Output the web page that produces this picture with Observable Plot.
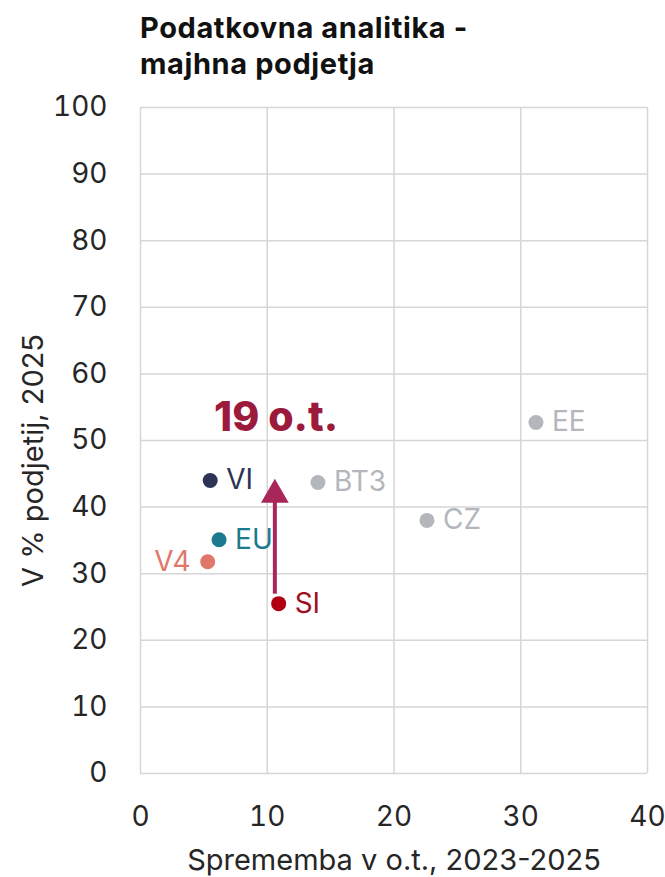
<!DOCTYPE html>
<html>
<head>
<meta charset="utf-8">
<script src="https://cdn.jsdelivr.net/npm/d3@7"></script>
<script src="https://cdn.jsdelivr.net/npm/@observablehq/plot@0.6"></script>
<style>
  html, body { margin: 0; padding: 0; background: #fff; }
  #title { height: 90px; box-sizing: border-box; padding: 10px 0 0 140px;
    font-family: "Inter", "Roboto", sans-serif; font-weight: 700;
    font-size: 29px; line-height: 36px; letter-spacing: 0.6px; color: #111; }
  #title .l { display: block; white-space: nowrap; }
</style>
</head>
<body>
<div id="title"><span class="l">Podatkovna analitika -</span><span class="l">majhna podjetja</span></div>
<div id="chart"></div>
<script>
const countries = ["EE", "CZ", "BT3", "VI", "EU", "V4", "SI"];
const changePP = [31.2, 22.6, 14.0, 5.5, 6.2, 5.3, 10.9];
const share2025 = [52.7, 38.0, 43.7, 44.0, 35.1, 31.8, 25.5];
const colors = ["#b3b7bc", "#b3b7bc", "#b3b7bc", "#2c3356", "#1c7a8e", "#e0776b", "#b00012"];
const labelColors = ["#b3b7bc", "#b3b7bc", "#b3b7bc", "#2c3356", "#1c7a8e", "#e0776b", "#a0101c"];
const labelSide = ["right", "right", "right", "right", "right", "left", "right"];

const xTicks = [0, 10, 20, 30, 40];
const yTicks = [0, 10, 20, 30, 40, 50, 60, 70, 80, 90, 100];

const arrowX = [10.6];
const arrowFrom = [27.0];
const arrowTo = [44.3];
const annotationText = ["19 o.t."];
const annotationX = [10.7];
const annotationY = [53.4];

const points = countries.map((c, i) => ({
  name: c, x: changePP[i], y: share2025[i], color: colors[i],
  labelColor: labelColors[i], side: labelSide[i]
}));
const arrow = arrowX.map((x, i) => ({x, y1: arrowFrom[i], y2: arrowTo[i]}));
const annot = annotationText.map((t, i) => ({t, x: annotationX[i], y: annotationY[i]}));

const font = "Inter, Liberation Sans, sans-serif";
const arrowColor = "#a8265a";
const textColor = "#262626";

const chart = Plot.plot({
  width: 665,
  height: 787,
  marginTop: 17,
  marginBottom: 104,
  marginLeft: 140,
  marginRight: 18,
  style: { fontFamily: font, fontSize: "28px", color: textColor, background: "#fff" },
  x: { domain: [0, 40], ticks: xTicks, label: null },
  y: { domain: [0, 100], ticks: yTicks, label: null },
  marks: [
    Plot.gridX(xTicks, { stroke: "#d6d6d6", strokeOpacity: 1, strokeWidth: 1.5 }),
    Plot.gridY(yTicks, { stroke: "#d6d6d6", strokeOpacity: 1, strokeWidth: 1.5 }),
    Plot.axisX(xTicks, { tickSize: 0, tickPadding: 33, fontSize: 28, fill: textColor, label: null }),
    Plot.axisY(yTicks, { tickSize: 0, tickPadding: 33, fontSize: 28, fill: textColor, label: null }),
    Plot.text(["Sprememba v o.t., 2023-2025"], {
      frameAnchor: "bottom", textAnchor: "middle", lineAnchor: "middle", dy: 87,
      fontSize: 29, letterSpacing: 1.1, fill: textColor
    }),
    Plot.text(["V % podjetij, 2025"], {
      frameAnchor: "left", textAnchor: "middle", lineAnchor: "middle", dx: -107, dy: 20,
      rotate: -90, fontSize: 29, letterSpacing: 1.1, fill: textColor
    }),
    Plot.link(arrow, { x1: "x", x2: "x", y1: "y1", y2: d => d.y2 - 3.0,
      stroke: arrowColor, strokeWidth: 4 }),
    Plot.dot(arrow, { x: "x", y: d => d.y2 - 2.45, symbol: "triangle", r: 10.3,
      fill: arrowColor, stroke: "none" }),
    Plot.dot(points, { x: "x", y: "y", r: 7.5, fill: "color", stroke: "none" }),
    Plot.text(points.filter(d => d.side === "right"), { x: "x", y: "y", text: "name",
      fill: "labelColor", textAnchor: "start", dx: 16, fontSize: 28 }),
    Plot.text(points.filter(d => d.side === "left"), { x: "x", y: "y", text: "name",
      fill: "labelColor", textAnchor: "end", dx: -17, fontSize: 28 }),
    Plot.text(annot, { x: "x", y: "y", text: "t", fill: "#9c1a3c", fontWeight: 800,
      fontSize: 41, fontFamily: "Inter, Liberation Sans, sans-serif", textAnchor: "middle" })
  ]
});
document.getElementById("chart").appendChild(chart);
</script>
</body>
</html>
